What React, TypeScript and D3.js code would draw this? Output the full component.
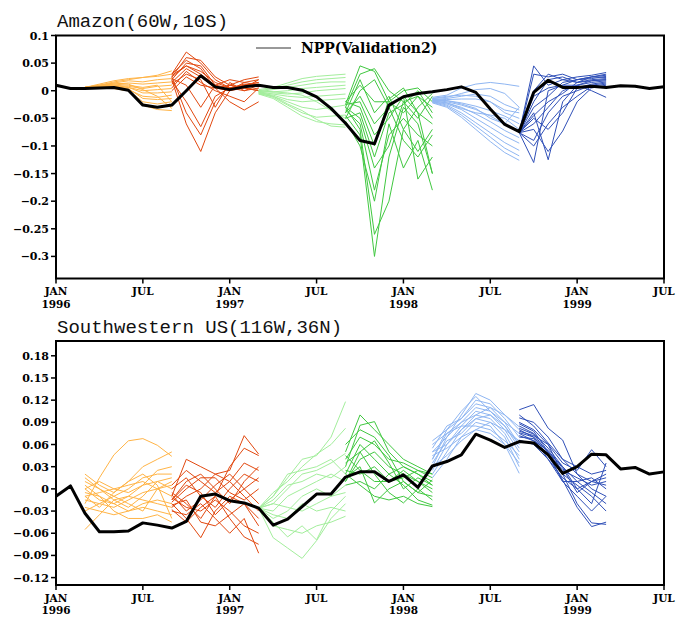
import React from 'react'
import { scaleLinear, line } from 'd3'

// months counted from JAN 1996 (0) to JUL 1999 (42)
const monthTicks = [0, 6, 12, 18, 24, 30, 36, 42]
const monthNames = ['JAN', 'JUL']
const yearLabels = ['1996', '1997', '1998', '1999']
const ensembleStarts = [2, 8, 14, 20, 26, 32]
const ensembleColors = ['#ffb446', '#e2480f', '#a3ee9c', '#40c840', '#8fb6f2', '#3050b8']

const amazonTicks = [0.1, 0.05, 0, -0.05, -0.1, -0.15, -0.2, -0.25, -0.3]
const swusTicks = [0.18, 0.15, 0.12, 0.09, 0.06, 0.03, 0, -0.03, -0.06, -0.09, -0.12]

// NPP(Validation2), JAN 1996 .. JUL 1999
const amazonObs = [
  0.010, 0.004, 0.004, 0.005, 0.006, 0.001, -0.026, -0.030, -0.026, 0.000, 0.027, 0.007,
  0.002, 0.007, 0.010, 0.006, 0.006, 0.001, -0.011, -0.032, -0.059, -0.090, -0.096, -0.026,
  -0.011, -0.005, -0.002, 0.002, 0.007, -0.003, -0.033, -0.061, -0.074, -0.003, 0.019, 0.006,
  0.006, 0.008, 0.006, 0.009, 0.008, 0.004, 0.007,
]
const swusObs = [
  -0.010, 0.004, -0.033, -0.058, -0.058, -0.057, -0.046, -0.049, -0.053, -0.044, -0.010, -0.007,
  -0.016, -0.019, -0.026, -0.049, -0.041, -0.024, -0.007, -0.007, 0.016, 0.023, 0.023, 0.010,
  0.019, 0.002, 0.031, 0.037, 0.046, 0.074, 0.066, 0.056, 0.064, 0.062, 0.046, 0.021,
  0.030, 0.047, 0.046, 0.027, 0.029, 0.020, 0.023,
]

// Amazon ensembles, 7 months each
const amazonMar96 = [
  [0.006, 0.010, 0.016, 0.020, 0.024, 0.028, 0.036],
  [0.006, 0.012, 0.018, 0.022, 0.024, 0.026, 0.030],
  [0.006, 0.008, 0.014, 0.018, 0.016, 0.020, 0.022],
  [0.006, 0.010, 0.012, 0.014, 0.012, 0.014, 0.016],
  [0.006, 0.008, 0.010, 0.008, 0.004, 0.008, 0.010],
  [0.006, 0.006, 0.008, 0.006, 0.000, 0.002, 0.004],
  [0.006, 0.008, 0.010, 0.006, -0.004, -0.004, -0.002],
  [0.006, 0.006, 0.006, 0.002, -0.010, -0.012, -0.008],
  [0.006, 0.007, 0.008, 0.004, -0.014, -0.016, -0.014],
  [0.006, 0.004, 0.004, 0.000, -0.020, -0.024, -0.020],
  [0.006, 0.006, 0.006, 0.002, -0.024, -0.030, -0.028],
  [0.006, 0.005, 0.004, 0.000, -0.026, -0.034, -0.036],
  [0.006, 0.008, 0.012, 0.010, 0.006, 0.010, -0.020],
  [0.006, 0.010, 0.014, 0.012, 0.002, -0.010, -0.032],
]
const amazonSep96 = [
  [0.030, 0.070, 0.050, 0.020, 0.005, 0.010, 0.015],
  [0.025, 0.060, 0.055, 0.025, 0.010, 0.005, 0.020],
  [0.020, 0.050, 0.045, 0.010, 0.000, 0.015, 0.010],
  [0.028, 0.045, 0.035, 0.015, 0.005, 0.000, 0.005],
  [0.015, 0.040, 0.025, 0.005, 0.010, 0.020, 0.025],
  [0.022, 0.010, -0.030, 0.010, 0.005, 0.008, 0.012],
  [0.018, -0.020, -0.065, -0.010, 0.005, 0.012, 0.008],
  [0.025, -0.040, -0.080, -0.020, 0.010, 0.005, 0.000],
  [0.020, -0.060, -0.110, -0.040, 0.000, 0.010, 0.015],
  [0.012, 0.030, 0.020, -0.030, 0.015, 0.000, 0.010],
  [0.030, 0.055, 0.040, 0.005, -0.020, -0.035, -0.020],
  [0.005, 0.035, 0.015, 0.000, -0.010, -0.020, 0.005],
  [0.025, 0.045, 0.030, 0.010, 0.020, 0.015, 0.020],
  [0.000, 0.025, 0.010, 0.005, 0.000, 0.005, 0.000],
]
const amazonMar97 = [
  [0.002, 0.006, 0.014, 0.022, 0.026, 0.028, 0.030],
  [0.000, 0.004, 0.010, 0.016, 0.020, 0.022, 0.024],
  [-0.002, 0.002, 0.006, 0.010, 0.014, 0.016, 0.016],
  [0.000, -0.002, 0.000, 0.004, 0.006, 0.008, 0.010],
  [-0.004, -0.004, -0.006, -0.004, 0.000, 0.002, 0.004],
  [-0.002, -0.006, -0.010, -0.012, -0.010, -0.008, -0.006],
  [-0.004, -0.008, -0.016, -0.020, -0.018, -0.016, -0.014],
  [-0.006, -0.010, -0.020, -0.030, -0.034, -0.030, -0.026],
  [-0.004, -0.012, -0.026, -0.040, -0.048, -0.046, -0.044],
  [-0.006, -0.014, -0.030, -0.046, -0.056, -0.060, -0.062],
  [-0.002, -0.010, -0.024, -0.036, -0.052, -0.064, -0.066],
  [0.000, -0.002, -0.004, -0.008, -0.020, -0.036, -0.050],
]
const amazonSep97 = [
  [-0.025, 0.045, 0.035, -0.020, -0.040, -0.010, -0.030],
  [-0.030, 0.030, 0.040, 0.000, -0.020, -0.050, -0.010],
  [-0.020, 0.010, -0.020, -0.020, 0.000, 0.005, -0.020],
  [-0.040, -0.010, -0.060, -0.030, -0.010, -0.040, -0.060],
  [-0.050, -0.040, -0.120, -0.040, -0.025, 0.000, -0.040],
  [-0.035, -0.060, -0.180, -0.080, -0.050, -0.080, -0.100],
  [-0.045, -0.080, -0.300, -0.120, -0.030, -0.060, -0.150],
  [-0.030, -0.070, -0.260, -0.200, -0.070, -0.110, -0.070],
  [-0.055, -0.100, -0.200, -0.060, -0.140, -0.090, -0.180],
  [-0.025, -0.020, -0.080, -0.050, -0.010, -0.160, -0.120],
  [-0.040, 0.020, -0.040, -0.010, -0.070, -0.030, -0.005],
  [-0.030, -0.050, -0.140, -0.100, -0.020, -0.010, -0.050],
  [-0.050, 0.000, 0.020, -0.030, -0.090, -0.120, -0.080],
  [-0.020, -0.030, -0.100, -0.015, 0.005, -0.040, -0.150],
]
const amazonMar98 = [
  [-0.012, -0.008, 0.005, 0.012, 0.015, 0.012, 0.008],
  [-0.014, -0.012, -0.005, 0.002, 0.004, -0.005, -0.030],
  [-0.016, -0.014, -0.010, -0.006, -0.010, -0.025, -0.035],
  [-0.015, -0.016, -0.015, -0.015, -0.020, -0.035, -0.040],
  [-0.018, -0.018, -0.022, -0.028, -0.036, -0.046, -0.060],
  [-0.017, -0.020, -0.026, -0.034, -0.046, -0.060, -0.075],
  [-0.019, -0.022, -0.030, -0.042, -0.056, -0.072, -0.085],
  [-0.020, -0.024, -0.034, -0.050, -0.066, -0.082, -0.095],
  [-0.020, -0.026, -0.040, -0.058, -0.076, -0.094, -0.108],
  [-0.021, -0.028, -0.044, -0.064, -0.084, -0.104, -0.118],
  [-0.022, -0.030, -0.048, -0.070, -0.092, -0.112, -0.126],
  [-0.016, -0.018, -0.024, -0.032, -0.050, -0.060, -0.030],
  [-0.018, -0.022, -0.032, -0.040, -0.044, -0.050, -0.070],
  [-0.014, -0.010, -0.008, -0.010, -0.020, -0.040, -0.050],
]
const amazonSep98 = [
  [-0.076, 0.045, 0.010, 0.020, 0.015, 0.025, 0.030],
  [-0.076, 0.030, 0.025, 0.030, 0.020, 0.025, 0.028],
  [-0.076, -0.130, 0.000, 0.010, 0.020, 0.025, 0.024],
  [-0.076, -0.040, -0.125, -0.020, 0.010, 0.018, 0.020],
  [-0.076, -0.020, 0.020, 0.025, 0.015, 0.020, 0.022],
  [-0.076, -0.060, -0.030, 0.000, 0.010, 0.015, 0.018],
  [-0.076, -0.050, -0.070, -0.040, 0.005, 0.012, 0.016],
  [-0.076, -0.090, -0.040, -0.010, 0.000, 0.010, 0.014],
  [-0.076, -0.030, -0.010, 0.015, 0.020, 0.022, 0.026],
  [-0.076, -0.100, -0.060, -0.030, -0.010, 0.008, 0.012],
  [-0.076, -0.070, -0.110, -0.073, -0.020, 0.005, 0.010],
  [-0.076, -0.010, 0.005, 0.010, 0.010, 0.000, -0.012],
  [-0.076, 0.000, 0.030, 0.020, 0.025, 0.028, 0.033],
  [-0.076, -0.045, -0.020, -0.005, 0.015, 0.018, 0.020],
]

// Southwestern US ensembles
const swusMar96 = [
  [-0.020, 0.015, 0.046, 0.065, 0.068, 0.059, 0.044],
  [0.020, 0.005, -0.005, 0.010, 0.030, 0.040, 0.050],
  [0.010, 0.000, -0.010, 0.000, 0.015, 0.020, 0.020],
  [0.000, -0.015, -0.020, -0.010, 0.005, 0.010, 0.015],
  [-0.010, -0.005, 0.000, 0.005, 0.010, 0.000, 0.005],
  [-0.015, -0.020, -0.025, -0.015, -0.005, 0.000, -0.010],
  [-0.005, -0.010, -0.020, -0.030, -0.020, -0.015, -0.020],
  [-0.025, -0.030, -0.035, -0.030, -0.025, -0.030, -0.035],
  [0.005, -0.010, -0.030, -0.040, -0.040, -0.035, -0.045],
  [-0.055, -0.035, -0.015, -0.010, -0.015, -0.020, -0.025],
  [-0.030, -0.020, -0.010, -0.020, -0.030, 0.000, 0.010],
  [0.000, 0.010, 0.000, -0.005, 0.005, 0.025, 0.030],
  [-0.010, -0.025, -0.005, 0.010, 0.020, 0.005, -0.040],
  [0.015, 0.000, -0.015, -0.025, -0.010, 0.010, 0.000],
]
const swusSep96 = [
  [-0.010, 0.040, 0.030, 0.020, 0.025, 0.072, 0.047],
  [-0.005, -0.020, -0.040, -0.010, 0.030, 0.055, 0.045],
  [-0.015, 0.010, 0.020, 0.000, -0.020, 0.010, 0.030],
  [-0.020, -0.040, -0.066, -0.030, -0.010, -0.020, -0.050],
  [-0.025, -0.010, 0.000, 0.020, 0.010, -0.010, -0.030],
  [-0.030, -0.035, -0.020, -0.040, -0.060, -0.040, -0.087],
  [0.000, 0.015, -0.010, -0.025, 0.000, 0.020, 0.010],
  [-0.012, -0.025, -0.030, -0.015, -0.030, -0.050, -0.060],
  [-0.018, 0.000, 0.015, 0.015, -0.005, -0.015, 0.000],
  [-0.008, -0.030, -0.015, 0.005, 0.020, 0.000, -0.020],
  [-0.022, -0.015, -0.045, -0.050, -0.035, -0.020, -0.040],
  [0.005, 0.025, 0.010, -0.005, 0.010, 0.035, 0.025],
  [-0.028, -0.045, -0.025, -0.010, -0.040, -0.065, -0.075],
  [-0.015, 0.005, -0.005, -0.035, -0.015, 0.000, 0.015],
]
const swusMar97 = [
  [-0.026, -0.010, 0.015, 0.040, 0.045, 0.070, 0.118],
  [-0.026, -0.005, 0.010, 0.030, 0.047, 0.060, 0.082],
  [-0.026, -0.020, 0.000, 0.020, 0.025, 0.035, 0.048],
  [-0.026, -0.015, 0.005, 0.010, 0.020, 0.015, 0.030],
  [-0.026, -0.030, -0.010, 0.000, 0.010, 0.020, 0.010],
  [-0.026, -0.040, -0.030, -0.010, 0.000, -0.010, -0.005],
  [-0.026, -0.066, -0.080, -0.094, -0.070, -0.040, -0.020],
  [-0.026, -0.050, -0.055, -0.060, -0.050, -0.045, -0.037],
  [-0.026, -0.020, -0.025, -0.030, -0.020, -0.010, 0.005],
  [-0.026, -0.035, -0.040, -0.020, -0.030, -0.025, -0.030],
  [-0.026, -0.010, 0.020, 0.025, 0.030, 0.040, 0.020],
  [-0.026, -0.045, -0.065, -0.050, -0.069, -0.030, -0.010],
]
const swusSep97 = [
  [0.050, 0.100, 0.080, 0.060, 0.040, 0.030, 0.020],
  [0.030, 0.086, 0.091, 0.050, 0.030, 0.020, 0.010],
  [0.040, 0.070, 0.060, 0.040, 0.035, 0.025, 0.015],
  [0.020, 0.060, 0.040, 0.020, 0.030, 0.020, 0.005],
  [0.010, 0.040, 0.050, 0.030, 0.020, 0.010, -0.005],
  [0.025, 0.020, 0.030, 0.010, 0.015, 0.025, 0.020],
  [0.015, 0.030, -0.019, 0.000, 0.010, -0.005, -0.010],
  [0.035, 0.050, 0.020, -0.005, -0.019, 0.000, -0.015],
  [0.005, 0.010, 0.000, 0.020, 0.005, -0.015, -0.022],
  [0.045, 0.025, 0.010, 0.010, 0.025, 0.010, 0.000],
  [0.060, 0.080, 0.070, 0.045, 0.010, -0.005, 0.012],
  [0.020, 0.005, -0.010, -0.015, -0.010, -0.020, -0.024],
  [0.010, 0.050, 0.065, 0.035, 0.000, 0.015, 0.005],
]
const swusMar98 = [
  [0.030, 0.070, 0.100, 0.129, 0.120, 0.100, 0.080],
  [0.040, 0.080, 0.095, 0.120, 0.115, 0.095, 0.070],
  [0.050, 0.070, 0.090, 0.110, 0.105, 0.090, 0.060],
  [0.060, 0.075, 0.085, 0.105, 0.100, 0.080, 0.050],
  [0.020, 0.050, 0.080, 0.100, 0.095, 0.075, 0.040],
  [0.035, 0.065, 0.075, 0.095, 0.090, 0.070, 0.030],
  [0.045, 0.055, 0.070, 0.090, 0.085, 0.060, 0.021],
  [0.025, 0.060, 0.085, 0.085, 0.080, 0.065, 0.045],
  [0.055, 0.085, 0.095, 0.115, 0.110, 0.100, 0.084],
  [0.015, 0.040, 0.070, 0.080, 0.075, 0.060, 0.035],
  [0.065, 0.080, 0.105, 0.125, 0.105, 0.085, 0.055],
  [0.030, 0.045, 0.065, 0.080, 0.090, 0.080, 0.065],
  [0.040, 0.075, 0.090, 0.100, 0.110, 0.090, 0.075],
  [0.050, 0.060, 0.080, 0.095, 0.100, 0.085, 0.060],
]
const swusSep98 = [
  [0.107, 0.114, 0.082, 0.066, 0.020, 0.000, -0.010],
  [0.096, 0.090, 0.070, 0.040, 0.020, 0.010, 0.005],
  [0.085, 0.075, 0.055, 0.030, 0.010, -0.005, -0.020],
  [0.080, 0.070, 0.050, 0.025, 0.015, 0.005, 0.010],
  [0.075, 0.065, 0.045, 0.020, 0.005, -0.010, -0.030],
  [0.070, 0.068, 0.040, 0.015, 0.000, 0.010, 0.020],
  [0.090, 0.080, 0.060, 0.020, -0.020, -0.046, -0.048],
  [0.078, 0.072, 0.060, 0.035, 0.025, 0.053, 0.030],
  [0.082, 0.074, 0.048, 0.010, -0.010, -0.030, -0.010],
  [0.066, 0.060, 0.040, 0.010, 0.010, 0.015, 0.000],
  [0.088, 0.078, 0.050, 0.030, 0.000, -0.020, 0.035],
  [0.072, 0.065, 0.052, 0.028, -0.005, 0.010, 0.015],
  [0.100, 0.085, 0.062, 0.040, 0.030, 0.020, 0.025],
  [0.076, 0.070, 0.045, 0.012, -0.025, -0.051, -0.045],
]

const amazonEnsembles = [amazonMar96, amazonSep96, amazonMar97, amazonSep97, amazonMar98, amazonSep98]
const swusEnsembles = [swusMar96, swusSep96, swusMar97, swusSep97, swusMar98, swusSep98]

const left = 56
const right = 664
const x = scaleLinear().domain([0, 42]).range([left, right])

const fmt = (v: number) => (v < 0 ? '\u2212' + String(-v) : String(v))

const tickFont = { fontFamily: 'DejaVu Serif', fontWeight: 'bold' as const, fontSize: 11 }
const dateFont = { fontFamily: 'DejaVu Serif', fontWeight: 'bold' as const, fontSize: 10.5 }

function Panel({ title, top, bottom, domain, ticks, obs, ensembles, legend }: any) {
  const y = scaleLinear().domain(domain).range([bottom, top])
  const path = line<number>().x((_, i) => x(i)).y(d => y(d))
  return (
    <g>
      <text x={57} y={top - 8.5} fontFamily="Liberation Mono" fontSize={19} fill="#111">{title}</text>
      {ensembles.map((ens: number[][], k: number) =>
        ens.map((member, j) => {
          const p = line<number>().x((_, i) => x(ensembleStarts[k] + i)).y(d => y(d))
          return <path key={k + '-' + j} d={p(member) || ''} fill="none" stroke={ensembleColors[k]} strokeWidth={1} />
        })
      )}
      <path d={path(obs) || ''} fill="none" stroke="#000" strokeWidth={3} strokeLinejoin="round" />
      <rect x={left} y={top} width={right - left} height={bottom - top} fill="none" stroke="#000" strokeWidth={2} />
      {ticks.map((t: number) => (
        <g key={t}>
          <line x1={left - 5} x2={left} y1={y(t)} y2={y(t)} stroke="#000" strokeWidth={1.5} />
          <text x={left - 7} y={y(t) + 4} textAnchor="end" {...tickFont}>{fmt(t)}</text>
        </g>
      ))}
      {monthTicks.map((m, i) => (
        <g key={m}>
          <line x1={x(m)} x2={x(m)} y1={bottom} y2={bottom + 5} stroke="#000" strokeWidth={1.5} />
          <text x={x(m)} y={bottom + 16.5} textAnchor="middle" {...dateFont}>{monthNames[i % 2]}</text>
          {i % 2 === 0 && (
            <text x={x(m)} y={bottom + 29} textAnchor="middle" {...dateFont}>{yearLabels[i / 2]}</text>
          )}
        </g>
      ))}
      {legend && (
        <g>
          <line x1={256} x2={291} y1={top + 12.5} y2={top + 12.5} stroke="#333" strokeWidth={1} />
          <text x={301} y={top + 17.5} fontFamily="DejaVu Serif" fontWeight="bold" fontSize={14}>NPP(Validation2)</text>
        </g>
      )}
    </g>
  )
}

export default function App() {
  return (
    <svg width={677} height={617} style={{ position: 'absolute', left: 0, top: 0, background: '#fff' }}>
      <Panel title="Amazon(60W,10S)" top={35.5} bottom={278.5} domain={[-0.34, 0.1]} ticks={amazonTicks}
        obs={amazonObs} ensembles={amazonEnsembles} legend />
      <Panel title="Southwestern US(116W,36N)" top={341} bottom={585} domain={[-0.13, 0.2]} ticks={swusTicks}
        obs={swusObs} ensembles={swusEnsembles} />
    </svg>
  )
}
